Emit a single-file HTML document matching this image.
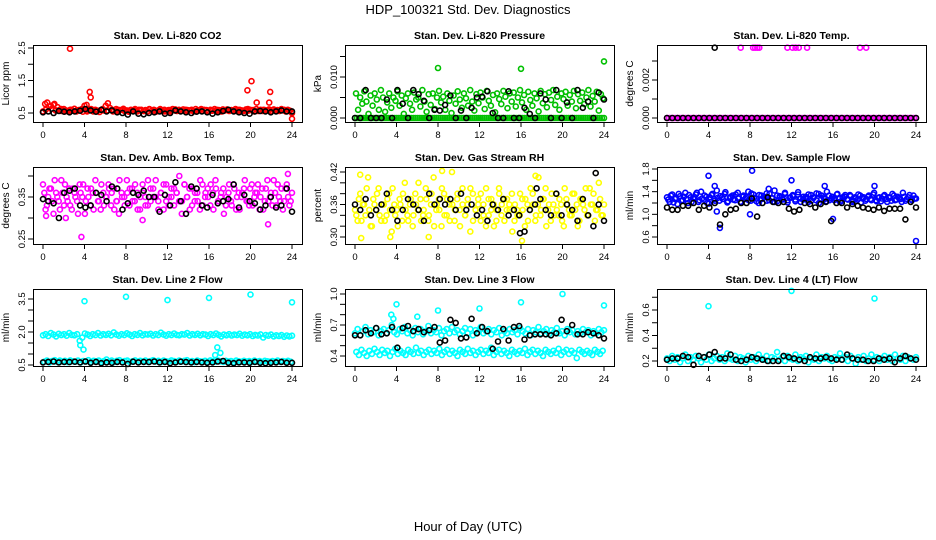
<!DOCTYPE html>
<html><head><meta charset="utf-8"><title>HDP_100321 Std. Dev. Diagnostics</title>
<style>html,body{margin:0;padding:0;background:#fff}svg{display:block;font-family:"Liberation Sans",Arial,sans-serif}</style>
</head><body>
<svg id="chart" width="936" height="540" viewBox="0 0 936 540" xmlns="http://www.w3.org/2000/svg">
<rect x="0" y="0" width="936" height="540" fill="#fff"/>
<text x="468" y="14" text-anchor="middle" font-size="13">HDP_100321 Std. Dev. Diagnostics</text>
<text x="468" y="531" text-anchor="middle" font-size="13">Hour of Day (UTC)</text>
</svg>
<script>
const xTicks=[0,4,8,12,16,20,24];
const p1Red=[0.55,0.78,0.82,0.7,0.62,0.75,0.58,0.68,0.6,0.56,0.62,0.58,0.55,0.6,0.57,0.63,0.55,0.59,0.6,0.54,0.61,0.56,0.58,0.62,0.55,0.6,0.57,0.53,0.6,0.58,0.72,0.8,0.65,0.6,0.57,0.62,0.55,0.59,0.6,0.56,0.58,0.54,0.6,0.57,0.62,0.55,0.58,0.6,0.56,0.59,0.55,0.61,0.57,0.6,0.54,0.58,0.62,0.56,0.6,0.57,0.59,0.55,0.62,0.58,0.56,0.6,0.57,0.61,0.55,0.59,0.58,0.6,0.55,0.62,0.57,0.59,0.56,0.6,0.58,0.55,0.6,0.57,0.62,0.56,0.59,0.55,0.61,0.58,0.6,0.56,0.59,0.57,0.62,0.55,0.6,0.58,0.56,0.61,0.57,0.6,0.58,0.55,0.62,0.57,0.6,0.56,0.59,0.58,0.61,0.55,0.6,0.57,0.59,0.56,0.62,0.58,0.55,0.6,0.57,0.5];
const p1RedB=[0.6,0.72,0.58,0.62,0.56,0.6,0.58,0.62,0.55,0.6,0.57,0.62,0.58,0.55,0.6,0.63,0.57,0.59,0.6,0.56,0.62,0.58,0.6,0.55,0.59,0.61,0.57,0.6,0.58,0.56,0.62,0.59,0.57,0.6,0.55,0.61,0.58,0.6,0.57,0.62,0.59,0.56,0.6,0.58,0.61,0.57,0.6,0.56];
const p1Black=[0.52,0.55,0.5,0.56,0.54,0.52,0.55,0.57,0.62,0.58,0.54,0.6,0.55,0.58,0.52,0.5,0.45,0.55,0.48,0.46,0.5,0.52,0.55,0.48,0.5,0.58,0.55,0.52,0.5,0.54,0.55,0.52,0.48,0.52,0.56,0.6,0.55,0.52,0.5,0.48,0.55,0.56,0.55,0.52,0.55,0.58,0.55,0.55];
const p1Out=[[2.6,2.48],[4.5,1.15],[4.6,0.98],[4.2,0.75],[4.0,0.72],[19.7,1.2],[20.1,1.48],[20.6,0.82],[21.9,1.15],[21.8,0.82],[24,0.32],[1.1,0.78]];
const p2Green=[0.006,0.002,0.005,0.0035,0.0065,0.004,0.001,0.0055,0.003,0.006,0.0045,0.002,0.0068,0.005,0.0015,0.0038,0.006,0.0025,0.005,0.0042,0.0065,0.003,0.0055,0.001,0.0048,0.006,0.0035,0.002,0.0062,0.0045,0.005,0.0028,0.0068,0.004,0.0015,0.0058,0.0032,0.006,0.0022,0.005,0.0066,0.0038,0.0052,0.002,0.006,0.0042,0.0012,0.0055,0.0035,0.0065,0.0045,0.0025,0.006,0.0048,0.003,0.0068,0.004,0.0018,0.0058,0.0036,0.0062,0.005,0.0022,0.0066,0.0042,0.003,0.0056,0.0014,0.006,0.0046,0.0034,0.0066,0.0052,0.0024,0.006,0.004,0.0062,0.0028,0.005,0.0068,0.0038,0.0056,0.002,0.0064,0.0044,0.003,0.006,0.0048,0.0016,0.0066,0.0036,0.0058,0.0026,0.0062,0.0044,0.0068,0.0032,0.0052,0.002,0.006,0.0046,0.0064,0.003,0.0056,0.004,0.0066,0.0024,0.0058,0.0042,0.0062,0.0034,0.005,0.0068,0.0028,0.0054,0.004,0.0064,0.0018,0.0058,0.0048];
const p2GreenZero=new Array(120).fill(0);
const p2Black=[0,0,0.0068,0,0,0,0.0045,0,0.0068,0.0035,0,0.0068,0.0058,0.0042,0,0.002,0.0018,0.0032,0.0055,0,0.0018,0,0.0025,0.005,0.0052,0.0065,0.0012,0,0,0.0065,0,0,0.0025,0.001,0,0.006,0.0045,0,0.0068,0,0.0038,0,0.0068,0.0025,0.004,0,0.0062,0.0045];
const p2Out=[[8,0.0122],[16,0.012],[24,0.0138]];
const p3Pink=new Array(120).fill(0);
const p3Black=new Array(48).fill(0);
const p3Out=[[7.1,0.0037],[8.3,0.0037],[8.5,0.0037],[8.7,0.0037],[8.9,0.0037],[11.6,0.0037],[12.1,0.0037],[12.4,0.0037],[12.7,0.0037],[13.5,0.0037],[18.6,0.0037],[19.2,0.0037]];
const p3BlackOut=[[4.6,0.0037]];
const p4Pink=[0.38,0.32,0.35,0.37,0.31,0.36,0.34,0.39,0.33,0.35,0.37,0.32,0.36,0.34,0.38,0.35,0.31,0.37,0.33,0.36,0.39,0.34,0.32,0.36,0.35,0.38,0.33,0.37,0.34,0.31,0.36,0.35,0.39,0.33,0.37,0.34,0.36,0.32,0.38,0.35,0.33,0.37,0.35,0.39,0.34,0.36,0.32,0.38,0.35,0.37,0.33,0.36,0.4,0.34,0.38,0.35,0.32,0.37,0.36,0.34,0.39,0.33,0.36,0.35,0.38,0.32,0.37,0.34,0.36,0.31,0.35,0.38,0.33,0.37,0.35,0.32,0.36,0.39,0.34,0.37,0.33,0.36,0.38,0.35,0.32,0.37,0.34,0.36,0.39,0.33,0.35,0.37,0.34,0.38,0.33,0.36];
const p4PinkB=[0.36,0.33,0.37,0.34,0.39,0.35,0.32,0.36,0.38,0.34,0.33,0.37,0.35,0.31,0.36,0.38,0.34,0.35,0.37,0.32,0.36,0.34,0.38,0.33,0.35,0.37,0.36,0.32,0.34,0.39,0.35,0.33,0.36,0.37,0.34,0.38,0.32,0.35,0.36,0.33,0.39,0.34,0.37,0.35,0.32,0.36,0.38,0.34,0.33,0.35,0.37,0.36,0.34,0.31,0.38,0.35,0.37,0.33,0.34,0.36,0.32,0.38,0.35,0.37,0.33,0.36,0.39,0.34,0.35,0.37,0.33,0.36,0.34,0.38,0.32,0.36,0.35,0.37,0.34,0.33,0.38,0.35,0.36,0.32,0.37,0.34,0.39,0.35,0.33,0.36,0.38,0.34,0.32,0.37,0.35,0.34];
const p4Black=[0.345,0.34,0.335,0.30,0.36,0.365,0.37,0.33,0.325,0.33,0.36,0.355,0.34,0.375,0.37,0.32,0.335,0.36,0.355,0.365,0.35,0.35,0.315,0.355,0.33,0.385,0.34,0.31,0.375,0.37,0.33,0.325,0.355,0.335,0.34,0.345,0.38,0.325,0.355,0.34,0.335,0.32,0.33,0.35,0.325,0.33,0.37,0.315];
const p4Out=[[3.7,0.255],[21.7,0.285],[23.6,0.405],[0.3,0.305],[2.2,0.3],[9.6,0.295]];
const p5Yellow=[0.35,0.33,0.38,0.36,0.34,0.41,0.32,0.37,0.35,0.39,0.33,0.36,0.34,0.38,0.31,0.36,0.35,0.37,0.33,0.4,0.34,0.36,0.32,0.38,0.35,0.37,0.34,0.39,0.33,0.36,0.41,0.35,0.37,0.32,0.38,0.34,0.36,0.42,0.33,0.37,0.35,0.39,0.34,0.36,0.31,0.38,0.35,0.37,0.33,0.36,0.39,0.34,0.37,0.32,0.35,0.38,0.36,0.33,0.37,0.35,0.31,0.36,0.34,0.38,0.35,0.37,0.33,0.39,0.36,0.34,0.41,0.35,0.37,0.32,0.36,0.38,0.34,0.35,0.37,0.33,0.39,0.36,0.34,0.38,0.35,0.32,0.37,0.36,0.39,0.34,0.36,0.38,0.35,0.4,0.34,0.36];
const p5YellowB=[0.34,0.37,0.33,0.36,0.39,0.35,0.32,0.36,0.38,0.34,0.36,0.33,0.37,0.35,0.39,0.34,0.32,0.36,0.38,0.35,0.33,0.37,0.34,0.36,0.4,0.33,0.35,0.37,0.34,0.38,0.32,0.36,0.35,0.39,0.34,0.37,0.33,0.36,0.35,0.38,0.32,0.36,0.34,0.37,0.39,0.33,0.35,0.36,0.38,0.34,0.32,0.37,0.35,0.36,0.33,0.39,0.34,0.37,0.35,0.36,0.38,0.33,0.35,0.34,0.37,0.32,0.36,0.35,0.38,0.33,0.36,0.34,0.37,0.39,0.35,0.33,0.36,0.38,0.34,0.36,0.32,0.37,0.35,0.34,0.38,0.36,0.33,0.37,0.35,0.34,0.39,0.36,0.33,0.35,0.37,0.34];
const p5Black=[0.36,0.35,0.37,0.34,0.35,0.36,0.38,0.35,0.33,0.35,0.37,0.36,0.35,0.33,0.38,0.36,0.37,0.36,0.37,0.35,0.38,0.35,0.36,0.34,0.35,0.33,0.36,0.35,0.37,0.34,0.35,0.34,0.31,0.35,0.36,0.37,0.35,0.34,0.38,0.34,0.36,0.35,0.33,0.37,0.34,0.32,0.36,0.33];
const p5Out=[[0.6,0.298],[3.4,0.3],[7.1,0.3],[16.1,0.293],[0.5,0.415],[8.4,0.422],[17.4,0.413]];
const p5BlackOut=[[23.2,0.418],[17.5,0.39],[15.9,0.307]];
const p6Blue=[1.3,1.22,1.35,1.27,1.18,1.32,1.25,1.38,1.2,1.3,1.28,1.35,1.22,1.4,1.26,1.31,1.19,1.34,1.27,1.42,1.24,1.3,1.36,1.21,1.29,1.33,1.25,1.38,1.22,1.31,1.27,1.4,1.24,1.35,1.28,1.2,1.33,1.3,1.37,1.25,1.29,1.42,1.23,1.32,1.27,1.36,1.21,1.3,1.34,1.26,1.39,1.22,1.31,1.28,1.35,1.24,1.3,1.37,1.2,1.33,1.27,1.4,1.25,1.31,1.29,1.36,1.22,1.3,1.34,1.26,1.32,1.24,1.28,1.35,1.21,1.3,1.27,1.33,1.25,1.38,1.23,1.3,1.28,1.34,1.22,1.29,1.36,1.25,1.31,1.27,1.38,1.24,1.3,1.26,1.33,1.28];
const p6BlueB=[1.26,1.33,1.21,1.29,1.36,1.24,1.31,1.27,1.34,1.22,1.3,1.38,1.25,1.28,1.33,1.2,1.3,1.36,1.24,1.29,1.32,1.27,1.39,1.23,1.31,1.26,1.35,1.28,1.22,1.33,1.3,1.25,1.37,1.29,1.23,1.34,1.27,1.31,1.24,1.36,1.28,1.22,1.33,1.3,1.26,1.38,1.25,1.29,1.32,1.23,1.35,1.28,1.26,1.31,1.22,1.34,1.29,1.25,1.36,1.27,1.3,1.23,1.33,1.28,1.25,1.35,1.29,1.24,1.31,1.27,1.34,1.22,1.3,1.26,1.33,1.28,1.24,1.31,1.27,1.35,1.25,1.29,1.23,1.32,1.27,1.3,1.24,1.33,1.26,1.29,1.22,1.31,1.27,1.34,1.25,1.28];
const p6Black=[1.12,1.08,1.08,1.15,1.15,1.2,1.08,1.15,1.12,1.2,0.82,1.0,1.08,1.1,1.2,1.2,1.28,0.96,1.2,1.3,1.22,1.2,1.22,1.1,1.05,1.08,1.2,1.18,1.12,1.18,1.22,0.88,1.2,1.2,1.12,1.18,1.15,1.12,1.1,1.08,1.12,1.06,1.1,1.1,1.1,0.91,1.22,1.12];
const p6Out=[[4,1.68],[8.2,1.77],[5.1,0.76],[4.8,1.05],[4.6,1.5],[12,1.6],[15.2,1.5],[20,1.5],[24,0.53],[8,1.0],[16,0.92],[9.8,1.45]];
const p7Upper=[1.85,1.9,1.82,1.95,1.88,1.8,1.92,1.86,1.9,1.83,1.95,1.87,1.85,1.9,1.6,1.75,1.93,1.88,1.82,1.9,1.86,1.95,1.84,1.9,1.87,1.92,1.85,1.98,1.88,1.83,1.9,1.86,1.94,1.88,1.82,1.9,1.87,1.95,1.85,1.9,1.88,1.92,1.84,1.9,1.86,1.97,1.88,1.83,1.9,1.86,1.93,1.87,1.85,1.9,1.88,1.95,1.84,1.9,1.87,1.92,1.85,1.9,1.88,1.82,1.9,1.86,1.93,1.87,1.8,1.88,1.85,1.9,1.84,1.88,1.86,1.92,1.83,1.88,1.85,1.9,1.82,1.87,1.84,1.89,1.75,1.86,1.83,1.88,1.8,1.85,1.82,1.86,1.78,1.84,1.8,1.83];
const p7Lower=[0.65,0.7,0.62,0.68,0.72,0.64,0.7,0.66,0.69,0.63,0.71,0.67,0.65,0.7,0.62,0.68,0.66,0.72,0.64,0.69,0.67,0.7,0.63,0.68,0.75,0.66,0.7,0.64,0.69,0.72,0.65,0.68,0.7,0.63,0.67,0.71,0.65,0.69,0.66,0.7,0.64,0.68,0.72,0.66,0.69,0.63,0.7,0.67,0.65,0.71,0.68,0.64,0.7,0.66,0.69,0.72,0.65,0.68,0.63,0.7,0.67,0.66,0.69,0.64,0.71,0.68,0.65,0.7,0.67,0.64,0.69,0.66,0.68,0.63,0.7,0.67,0.65,0.69,0.66,0.68,0.64,0.7,0.66,0.68,0.63,0.69,0.67,0.65,0.68,0.66,0.7,0.64,0.68,0.66,0.69,0.65];
const p7Black=[0.62,0.64,0.66,0.62,0.64,0.63,0.65,0.62,0.66,0.6,0.64,0.58,0.62,0.6,0.64,0.62,0.55,0.65,0.62,0.64,0.63,0.66,0.62,0.64,0.58,0.62,0.65,0.63,0.62,0.64,0.62,0.6,0.62,0.66,0.68,0.6,0.58,0.62,0.62,0.6,0.64,0.6,0.58,0.6,0.62,0.64,0.6,0.6];
const p7Out=[[4,3.4],[8,3.6],[12,3.45],[16,3.55],[20,3.7],[24,3.35],[3.6,1.4],[3.9,1.2],[16.8,1.3],[17.1,1.05],[16.6,0.95]];
const p8Upper=[0.62,0.66,0.6,0.64,0.68,0.61,0.65,0.63,0.67,0.6,0.64,0.66,0.62,0.65,0.7,0.63,0.61,0.66,0.64,0.68,0.62,0.65,0.6,0.67,0.63,0.66,0.61,0.64,0.69,0.62,0.65,0.63,0.67,0.6,0.64,0.66,0.62,0.68,0.63,0.65,0.61,0.64,0.67,0.62,0.66,0.6,0.65,0.63,0.68,0.62,0.64,0.66,0.61,0.65,0.63,0.67,0.6,0.64,0.62,0.66,0.63,0.65,0.61,0.67,0.64,0.62,0.66,0.6,0.65,0.63,0.68,0.62,0.64,0.66,0.61,0.65,0.63,0.67,0.62,0.64,0.6,0.66,0.63,0.65,0.61,0.64,0.62,0.66,0.63,0.65,0.6,0.64,0.62,0.66,0.63,0.65];
const p8Lower=[0.44,0.41,0.46,0.43,0.4,0.45,0.42,0.47,0.44,0.41,0.46,0.43,0.45,0.4,0.44,0.47,0.42,0.45,0.43,0.41,0.46,0.44,0.42,0.48,0.43,0.45,0.41,0.44,0.46,0.42,0.45,0.43,0.47,0.41,0.44,0.46,0.42,0.45,0.43,0.4,0.46,0.44,0.42,0.47,0.43,0.45,0.41,0.44,0.46,0.42,0.45,0.43,0.48,0.41,0.44,0.46,0.42,0.45,0.43,0.4,0.46,0.44,0.42,0.45,0.43,0.47,0.41,0.44,0.46,0.42,0.45,0.43,0.4,0.46,0.44,0.42,0.45,0.43,0.47,0.41,0.44,0.46,0.42,0.45,0.43,0.38,0.46,0.44,0.42,0.45,0.43,0.41,0.46,0.44,0.42,0.45];
const p8Black=[0.6,0.6,0.65,0.62,0.67,0.61,0.62,0.68,0.48,0.67,0.69,0.64,0.66,0.63,0.65,0.68,0.53,0.55,0.75,0.72,0.57,0.58,0.76,0.62,0.68,0.64,0.47,0.54,0.66,0.55,0.68,0.69,0.56,0.6,0.61,0.61,0.61,0.6,0.62,0.75,0.64,0.7,0.61,0.61,0.63,0.62,0.6,0.57];
const p8Out=[[4,0.9],[3.5,0.8],[3.7,0.76],[8,0.84],[12,0.86],[16,0.92],[20,1.0],[24,0.89],[6,0.78]];
const p9Cyan=[0.22,0.2,0.24,0.21,0.23,0.19,0.22,0.25,0.2,0.23,0.21,0.24,0.22,0.19,0.23,0.21,0.25,0.2,0.22,0.24,0.21,0.23,0.2,0.26,0.22,0.21,0.24,0.2,0.23,0.22,0.19,0.24,0.21,0.23,0.2,0.25,0.22,0.21,0.24,0.2,0.23,0.22,0.27,0.21,0.23,0.2,0.24,0.22,0.21,0.25,0.2,0.23,0.22,0.24,0.19,0.22,0.21,0.25,0.2,0.23,0.22,0.24,0.21,0.2,0.23,0.22,0.26,0.21,0.23,0.2,0.24,0.22,0.18,0.23,0.21,0.24,0.2,0.22,0.25,0.21,0.23,0.2,0.22,0.24,0.21,0.23,0.2,0.25,0.22,0.21,0.24,0.2,0.23,0.22,0.21,0.23];
const p9Black=[0.21,0.22,0.22,0.24,0.23,0.17,0.24,0.23,0.25,0.27,0.22,0.22,0.25,0.21,0.2,0.21,0.23,0.22,0.21,0.2,0.2,0.2,0.24,0.23,0.22,0.21,0.2,0.23,0.22,0.22,0.23,0.22,0.21,0.21,0.25,0.22,0.21,0.21,0.2,0.2,0.22,0.21,0.22,0.19,0.22,0.24,0.22,0.21];
const p9Out=[[4,0.63],[12,0.75],[20,0.69]];

const NS="http://www.w3.org/2000/svg";
const svg=document.getElementById('chart');
const colL=[33,345,657], rowT=[45,167,289], BW=269, BH=77;
const panels=[
 {name:'co2',title:'Stan. Dev. Li-820 CO2',ylab:'Licor ppm',col:0,row:0,v0:0.5,p0:113,v1:2.5,p1:48,ticks:[0.5,1,1.5,2,2.5],labels:['0.5','','1.5','','2.5'],color:'#ff0000',series:[p1Red,p1RedB],black:p1Black,out:p1Out,bout:[]},
 {name:'pressure',title:'Stan. Dev. Li-820 Pressure',ylab:'kPa',col:1,row:0,v0:0,p0:118,v1:0.01,p1:77,ticks:[0,0.005,0.01,0.015],labels:['0.000','','0.010',''],color:'#00c000',series:[p2GreenZero,p2Green],black:p2Black,out:p2Out,bout:[]},
 {name:'temp',title:'Stan. Dev. Li-820 Temp.',ylab:'degrees C',col:2,row:0,v0:0,p0:118,v1:0.002,p1:80,ticks:[0,0.001,0.002,0.003],labels:['0.000','','0.002',''],color:'#ff00ff',series:[p3Pink],black:p3Black,out:p3Out,bout:p3BlackOut},
 {name:'box-temp',title:'Stan. Dev. Amb. Box Temp.',ylab:'degrees C',col:0,row:1,v0:0.25,p0:239,v1:0.35,p1:197,ticks:[0.25,0.3,0.35,0.4],labels:['0.25','','0.35',''],color:'#ff00ff',series:[p4Pink,p4PinkB],black:p4Black,out:p4Out,bout:[]},
 {name:'rh',title:'Stan. Dev. Gas Stream RH',ylab:'percent',col:1,row:1,v0:0.3,p0:237,v1:0.42,p1:172,ticks:[0.3,0.32,0.34,0.36,0.38,0.4,0.42],labels:['0.30','','','0.36','','','0.42'],color:'#ffff00',series:[p5Yellow,p5YellowB],black:p5Black,out:p5Out,bout:p5BlackOut},
 {name:'sample-flow',title:'Stan. Dev. Sample Flow',ylab:'ml/min',col:2,row:1,v0:0.6,p0:237,v1:1.8,p1:169,ticks:[0.6,0.8,1,1.2,1.4,1.6,1.8],labels:['0.6','','1.0','','1.4','','1.8'],color:'#0000ff',series:[p6Blue,p6BlueB],black:p6Black,out:p6Out,bout:[]},
 {name:'line2',title:'Stan. Dev. Line 2 Flow',ylab:'ml/min',col:0,row:2,v0:0.5,p0:365,v1:3.5,p1:299,ticks:[0.5,1,1.5,2,2.5,3,3.5],labels:['0.5','','','2.0','','','3.5'],color:'#00ffff',series:[p7Upper,p7Lower],black:p7Black,out:p7Out,bout:[]},
 {name:'line3',title:'Stan. Dev. Line 3 Flow',ylab:'ml/min',col:1,row:2,v0:0.4,p0:356,v1:1.0,p1:294,ticks:[0.4,0.5,0.6,0.7,0.8,0.9,1.0],labels:['0.4','','','0.7','','','1.0'],color:'#00ffff',series:[p8Upper,p8Lower],black:p8Black,out:p8Out,bout:[]},
 {name:'line4',title:'Stan. Dev. Line 4 (LT) Flow',ylab:'ml/min',col:2,row:2,v0:0.2,p0:361,v1:0.6,p1:310,ticks:[0.2,0.3,0.4,0.5,0.6,0.7],labels:['0.2','','0.4','','0.6',''],color:'#00ffff',series:[p9Cyan],black:p9Black,out:p9Out,bout:[]}
];
function mk(tag,attrs,parent){const e=document.createElementNS(NS,tag);for(const k in attrs)e.setAttribute(k,attrs[k]);(parent||svg).appendChild(e);return e;}
panels.forEach(p=>{
 const L=colL[p.col], T=rowT[p.row], B=T+BH;
 const xs=v=>L+10+v*(249/24);
 const ys=v=>p.p0+(v-p.v0)*(p.p1-p.p0)/(p.v1-p.v0);
 const g=mk('g',{});
 
 
 const t=mk('text',{x:L+BW/2,y:T-6,'text-anchor':'middle','font-size':'10.5','font-weight':'bold'},g);
 t.textContent=p.title;
 
 
 const yl=mk('text',{x:0,y:0,'text-anchor':'middle','font-size':'10',transform:`translate(${L-24},${T+BH/2}) rotate(-90)`},g);
 yl.textContent=p.ylab;
 
 
 const pts=mk('g',{fill:'none','stroke-width':'1.6'},g);
 
 
 const dot=(x,y,c)=>{const py=ys(y);const e=mk('circle',{cx:xs(x).toFixed(1),cy:py.toFixed(1),r:'2.5',stroke:c},pts);
  
  };
 p.series.forEach((s,k)=>s.forEach((v,i)=>dot(k===0?i*24/(s.length-1):(i+0.5)*24/s.length,v,p.color)));
 p.out.forEach(o=>dot(o[0],o[1],p.color));
 p.black.forEach((v,i)=>dot(i*24/(p.black.length-1),v,'#000'));
 p.bout.forEach(o=>dot(o[0],o[1],'#000'));
 const box=mk('rect',{x:L+0.5,y:T+0.5,width:BW,height:BH,fill:'none',stroke:'#000','stroke-width':'1'},g);
 
 
 const xa=mk('g',{},g);
 
 
 mk('line',{x1:xs(0),x2:xs(24),y1:B+0.5,y2:B+0.5,stroke:'#000'},xa);
 xTicks.forEach(v=>{mk('line',{x1:xs(v),x2:xs(v),y1:B,y2:B+5,stroke:'#000'},xa);
  const tl=mk('text',{x:xs(v),y:B+16,'text-anchor':'middle','font-size':'9.5'},xa);tl.textContent=v;
  
  });
 const ya=mk('g',{},g);
 
 
 mk('line',{x1:L+0.5,x2:L+0.5,y1:ys(p.ticks[0]),y2:ys(p.ticks[p.ticks.length-1]),stroke:'#000'},ya);
 p.ticks.forEach((v,i)=>{const y=ys(v);mk('line',{x1:L-5,x2:L,y1:y,y2:y,stroke:'#000'},ya);
  if(p.labels[i]){const tl=mk('text',{x:0,y:0,'text-anchor':'middle','font-size':'9.5',transform:`translate(${L-8},${y}) rotate(-90)`},ya);tl.textContent=p.labels[i];
  
  }});
});
</script>
</body></html>
